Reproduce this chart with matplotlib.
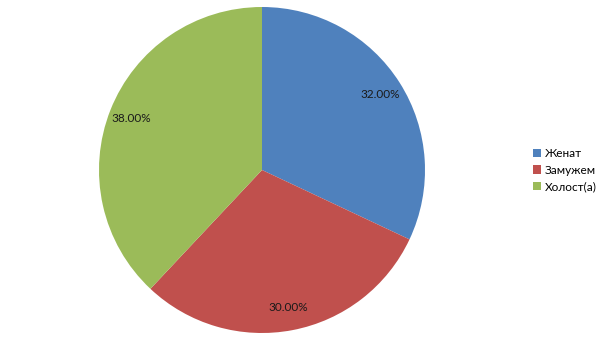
import matplotlib
matplotlib.use("Agg")
import matplotlib.pyplot as plt

categories = ["Женат", "Замужем", "Холост(а)"]
values = [32, 30, 38]
colors = ["#4F81BD", "#C0504D", "#9BBB59"]

plt.rcParams['font.family'] = ['Lato', 'DejaVu Sans']

fig = plt.figure(figsize=(6.05, 3.4), dpi=100)
ax = fig.add_axes([99/605, 7/340, 326/605, 326/340])
wedges, texts, autotexts = ax.pie(values, colors=colors, startangle=90, counterclock=False,
                                  autopct='%1.2f%%', pctdistance=0.86, radius=1.0,
                                  textprops={'fontsize': 8.5, 'color': '#1a1a1a'},
                                  wedgeprops={'linewidth': 0})
ax.set_xlim(-1, 1)
ax.set_ylim(-1, 1)
ax.set_aspect('equal')
ax.axis('off')

fig.legend(wedges, categories, loc='center left', bbox_to_anchor=(522/605, 0.5),
           frameon=False, fontsize=8.5, handlelength=0.7, handleheight=0.7,
           handletextpad=0.35, labelspacing=0.45)

fig.savefig("out.png", dpi=100)
